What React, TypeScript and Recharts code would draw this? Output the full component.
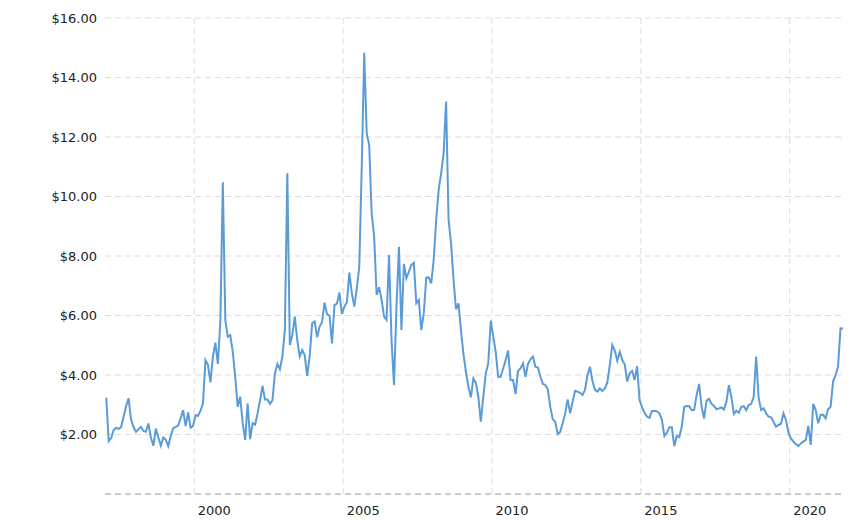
import React from "react";
import { LineChart, Line, XAxis, YAxis, CartesianGrid, ReferenceLine } from "recharts";

const startYear = 1997;
const p1997 = [3.24, 1.78, 1.88, 2.15, 2.23, 2.19, 2.25, 2.6, 2.95, 3.22, 2.5, 2.25];
const p1998 = [2.09, 2.18, 2.26, 2.12, 2.09, 2.37, 1.9, 1.62, 2.2, 1.9, 1.62, 1.9];
const p1999 = [1.82, 1.61, 1.95, 2.21, 2.26, 2.3, 2.55, 2.82, 2.28, 2.74, 2.23, 2.29];
const p2000 = [2.65, 2.62, 2.8, 3.05, 4.5, 4.34, 3.75, 4.62, 5.09, 4.37, 5.8, 10.48];
const p2001 = [5.85, 5.29, 5.34, 4.78, 3.94, 2.93, 3.27, 2.38, 1.82, 3.05, 1.84, 2.38];
const p2002 = [2.33, 2.71, 3.15, 3.63, 3.18, 3.18, 3.03, 3.15, 4.06, 4.37, 4.19, 4.62];
const p2003 = [5.51, 10.78, 5.01, 5.34, 5.96, 5.18, 4.62, 4.84, 4.67, 3.97, 4.62, 5.74];
const p2004 = [5.8, 5.27, 5.62, 5.78, 6.43, 6.05, 6.0, 5.06, 6.35, 6.4, 6.77, 6.05];
const p2005 = [6.3, 6.45, 7.44, 6.75, 6.3, 6.91, 7.64, 11.0, 14.83, 12.12, 11.73, 9.43];
const p2006 = [8.65, 6.69, 6.95, 6.52, 5.96, 5.85, 8.03, 5.18, 3.66, 6.3, 8.31, 5.51];
const p2007 = [7.73, 7.25, 7.47, 7.7, 7.77, 6.41, 6.52, 5.51, 6.07, 7.27, 7.28, 7.08];
const p2008 = [7.87, 9.21, 10.22, 10.78, 11.45, 13.19, 9.21, 8.43, 7.2, 6.21, 6.41, 5.5];
const p2009 = [4.7, 4.1, 3.6, 3.25, 3.89, 3.74, 3.27, 2.43, 3.27, 4.06, 4.39, 5.83];
const p2010 = [5.3, 4.78, 3.94, 3.94, 4.22, 4.5, 4.82, 3.83, 3.83, 3.36, 4.14, 4.22];
const p2011 = [4.39, 3.94, 4.37, 4.53, 4.62, 4.28, 4.25, 3.94, 3.7, 3.66, 3.52, 2.93];
const p2012 = [2.51, 2.43, 2.02, 2.09, 2.38, 2.71, 3.18, 2.71, 3.1, 3.47, 3.44, 3.4];
const p2013 = [3.33, 3.5, 4.0, 4.28, 3.8, 3.5, 3.44, 3.55, 3.46, 3.55, 3.75, 4.34];
const p2014 = [5.01, 4.82, 4.48, 4.78, 4.5, 4.36, 3.78, 4.06, 4.14, 3.83, 4.3, 3.16];
const p2015 = [2.91, 2.73, 2.6, 2.56, 2.79, 2.8, 2.78, 2.71, 2.49, 1.95, 2.06, 2.24];
const p2016 = [2.24, 1.61, 1.95, 1.91, 2.26, 2.93, 2.96, 2.95, 2.82, 2.83, 3.33, 3.7];
const p2017 = [2.93, 2.54, 3.14, 3.2, 3.03, 2.96, 2.85, 2.88, 2.91, 2.84, 3.1, 3.66];
const p2018 = [3.27, 2.69, 2.8, 2.73, 2.93, 2.95, 2.82, 2.99, 3.03, 3.27, 4.62, 3.22];
const p2019 = [2.82, 2.88, 2.71, 2.6, 2.58, 2.43, 2.26, 2.32, 2.36, 2.71, 2.49, 2.06];
const p2020 = [1.87, 1.76, 1.68, 1.61, 1.7, 1.76, 1.82, 2.29, 1.65, 3.03, 2.82, 2.38];
const p2021 = [2.66, 2.66, 2.54, 2.85, 2.93, 3.78, 4.0, 4.28, 5.57, 5.56];

const yearlyPrices = [
  p1997, p1998, p1999, p2000, p2001, p2002, p2003, p2004, p2005, p2006, p2007, p2008,
  p2009, p2010, p2011, p2012, p2013, p2014, p2015, p2016, p2017, p2018, p2019, p2020, p2021,
];

const xTicks = [2000, 2005, 2010, 2015, 2020];
const yTicks = [0, 2, 4, 6, 8, 10, 12, 14, 16];

const data = yearlyPrices.flatMap((arr, yi) =>
  arr.map((price, mi) => ({ t: startYear + yi + (mi + 0.5) / 12, price }))
);
const lastT = data[data.length - 1].t;

const font = "'DejaVu Sans', Verdana, sans-serif";

function YearTick(props: any) {
  const { x, y, payload } = props;
  return (
    <text x={x + 3.5} y={y} dy="0.71em" textAnchor="start" fill="#222" fontSize={13} fontFamily={font}>
      {String(Math.round(payload.value))}
    </text>
  );
}

export default function App() {
  return (
    <LineChart
      width={855}
      height={510}
      data={data}
      margin={{ top: 10, right: 20, bottom: 0, left: 0 }}
    >
      <CartesianGrid stroke="#dcdcdc" strokeDasharray="6 4" vertical={false} />
      {xTicks.map((yr) => (
        <ReferenceLine key={yr} x={yr} stroke="#dcdcdc" strokeDasharray="6 4" />
      ))}
      <XAxis
        dataKey="t"
        type="number"
        domain={[startYear, lastT]}
        allowDataOverflow
        ticks={xTicks}
        tick={<YearTick />}
        tickLine={false}
        axisLine={{ stroke: "#aaaaaa", strokeDasharray: "6 4" }}
        tickMargin={6}
        height={24}
      />
      <YAxis
        type="number"
        domain={[0, 16]}
        ticks={yTicks}
        tickFormatter={(v: number) => (v === 0 ? "" : "$" + v.toFixed(2))}
        tickLine={false}
        axisLine={false}
        width={97}
        tick={{ fill: "#222", fontSize: 13, fontFamily: font }}
      />
      <Line
        type="linear"
        dataKey="price"
        stroke="#5a9bd8"
        strokeWidth={2}
        dot={false}
        isAnimationActive={false}
      />
    </LineChart>
  );
}
